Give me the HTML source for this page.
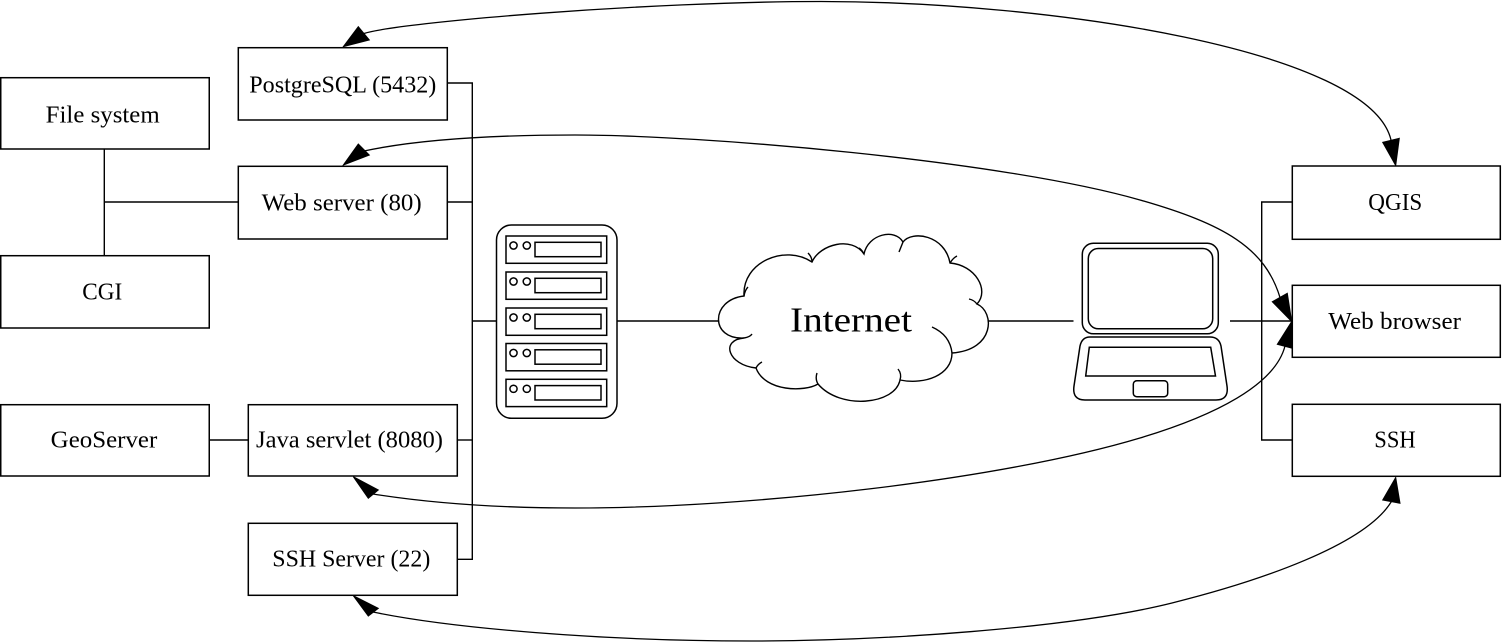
<!DOCTYPE html>
<html>
<head>
<meta charset="utf-8">
<style>
html,body{margin:0;padding:0;background:#fff;}
svg{display:block;}
text{font-family:"Liberation Serif","DejaVu Serif",serif;font-size:24px;fill:#000;}
</style>
</head>
<body>
<svg width="1502" height="644" viewBox="0 0 1502 644" xmlns="http://www.w3.org/2000/svg">
<rect x="0" y="0" width="1502" height="644" fill="#fff"/>

<!-- connectors -->
<g fill="none" stroke="#000" stroke-width="1.4">
  <path d="M104.3,149 V255.7 M104.3,202 H238.3"/>
  <path d="M209,440 H248.3"/>
  <path d="M447.3,83 H472.3 V559.3 H457.3"/>
  <path d="M447.3,202 H472.3"/>
  <path d="M457.3,440 H472.3"/>
  <path d="M472.3,321 H496"/>
  <path d="M617,321 H720"/>
  <path d="M986,321 H1073.5"/>
  <path d="M1230,321 H1292"/>
  <path d="M1292.3,202 H1261.7 V440 H1292.3"/>
</g>

<!-- curves -->
<g fill="none" stroke="#000" stroke-width="1.3">
  <path d="M364,33.5 C400,22 650,1.5 821,1.5 C1050,1.5 1370,50 1391,140"/>
  <path d="M364,151 C420,139 500,135 575,135 C700,135 1000,160 1140,200 C1225,224.3 1265,248 1280,297.5"/>
  <path d="M373,494 C430,503 500,508 575,508 C750,508 1000,480 1140,438 C1215,415.5 1275,385 1285,346"/>
  <path d="M373,612 C450,628 600,641 751,641 C880,641 1070,628.5 1172,603 C1260,581 1365,545 1391.3,501.7"/>
</g>

<!-- arrowheads -->
<g fill="#000" stroke="#000" stroke-width="1">
  <polygon points="343.3,46.7 358.3,26.7 369.3,40"/>
  <polygon points="343.3,165 358.3,144 369.3,155"/>
  <polygon points="1395.7,165.5 1382.7,142.3 1399.3,138.3"/>
  <polygon points="1291.7,321.5 1272.3,301.7 1287.3,293.3"/>
  <polygon points="1291.7,321.5 1277.3,344.3 1292.7,348.3"/>
  <polygon points="353.3,476.7 368.3,498.3 378.3,490"/>
  <polygon points="353.3,595.7 368.3,616 378.3,608.3"/>
  <polygon points="1395.7,477.5 1382.7,500 1400,503.3"/>
</g>

<!-- boxes -->
<g fill="#fff" stroke="#000" stroke-width="1.5">
  <rect x="0.75" y="77.7" width="208.5" height="71.3"/>
  <rect x="238.3" y="47.7" width="209" height="72.3"/>
  <rect x="238.3" y="166.3" width="209" height="72.7"/>
  <rect x="0.75" y="255.7" width="208.5" height="72.3"/>
  <rect x="0.75" y="404.7" width="208.5" height="71.3"/>
  <rect x="248.3" y="404.7" width="209" height="71.3"/>
  <rect x="248.3" y="523.3" width="209" height="72"/>
  <rect x="1292.3" y="166" width="208" height="73.3"/>
  <rect x="1292.3" y="285.3" width="208" height="72"/>
  <rect x="1292.3" y="404.3" width="208" height="72"/>
</g>

<!-- labels -->
<text x="45.7" y="122.3" textLength="114" lengthAdjust="spacingAndGlyphs">File system</text>
<text x="249.3" y="92.5" textLength="187" lengthAdjust="spacingAndGlyphs">PostgreSQL (5432)</text>
<text x="261.7" y="210.5" textLength="160" lengthAdjust="spacingAndGlyphs">Web server (80)</text>
<text x="82.3" y="299.3" textLength="40" lengthAdjust="spacingAndGlyphs">CGI</text>
<text x="50.7" y="447.7" textLength="106.6" lengthAdjust="spacingAndGlyphs">GeoServer</text>
<text x="256" y="447.7" textLength="187" lengthAdjust="spacingAndGlyphs">Java servlet (8080)</text>
<text x="272.3" y="566.7" textLength="158" lengthAdjust="spacingAndGlyphs">SSH Server (22)</text>
<text x="1368.3" y="210" textLength="54" lengthAdjust="spacingAndGlyphs">QGIS</text>
<text x="1328.3" y="329" textLength="132.7" lengthAdjust="spacingAndGlyphs">Web browser</text>
<text x="1374.3" y="447.3" textLength="41.4" lengthAdjust="spacingAndGlyphs">SSH</text>

<!-- server rack -->
<g fill="none" stroke="#000" stroke-width="1.5">
  <rect x="496.5" y="225" width="120.5" height="193.3" rx="15" ry="15" fill="#fff"/>
  <g>
    <rect x="506" y="236" width="100.7" height="27.3"/>
    <circle cx="513.5" cy="245.5" r="3.6"/>
    <circle cx="526.8" cy="245.5" r="3.6"/>
    <rect x="535" y="242.3" width="66" height="14.4"/>
  </g>
  <g transform="translate(0,36)">
    <rect x="506" y="236" width="100.7" height="27.3"/>
    <circle cx="513.5" cy="245.5" r="3.6"/>
    <circle cx="526.8" cy="245.5" r="3.6"/>
    <rect x="535" y="242.3" width="66" height="14.4"/>
  </g>
  <g transform="translate(0,72)">
    <rect x="506" y="236" width="100.7" height="27.3"/>
    <circle cx="513.5" cy="245.5" r="3.6"/>
    <circle cx="526.8" cy="245.5" r="3.6"/>
    <rect x="535" y="242.3" width="66" height="14.4"/>
  </g>
  <g transform="translate(0,107.5)">
    <rect x="506" y="236" width="100.7" height="27.3"/>
    <circle cx="513.5" cy="245.5" r="3.6"/>
    <circle cx="526.8" cy="245.5" r="3.6"/>
    <rect x="535" y="242.3" width="66" height="14.4"/>
  </g>
  <g transform="translate(0,143.3)">
    <rect x="506" y="236" width="100.7" height="27.3"/>
    <circle cx="513.5" cy="245.5" r="3.6"/>
    <circle cx="526.8" cy="245.5" r="3.6"/>
    <rect x="535" y="242.3" width="66" height="14.4"/>
  </g>
</g>

<!-- cloud -->
<g stroke="#000" stroke-width="1.4">
  <path fill="#fff" d="M744,338 C710,340 710,300 744,296
    C742,262 785,244 812,262
    C820,244 852,236 864,254
    C868,234 895,228 903,242
    C912,230 945,235 950,263
    C975,265 990,290 977,304
    C995,312 995,350 952,353
    C952,375 925,385 900,380
    C895,405 840,410 818,384
    C805,392 765,392 756,368
    C728,365 720,340 744,338 Z"/>
  <g fill="none">
    <path d="M744,338 Q750,337 752,334"/>
    <path d="M744,296 Q745,290 748,287"/>
    <path d="M812,262 Q812,257 808,253"/>
    <path d="M864,254 Q862,250 859,248"/>
    <path d="M903,242 Q901,247 899,252"/>
    <path d="M950,263 Q953,258 957,256"/>
    <path d="M977,304 Q974,300 969,299"/>
    <path d="M952,353 Q950,335 932,327"/>
    <path d="M900,380 Q902,374 898,369"/>
    <path d="M818,384 Q815,379 817,373"/>
    <path d="M756,368 Q758,364 762,362"/>
  </g>
</g>
<text x="790" y="331.7" textLength="122" lengthAdjust="spacingAndGlyphs" style="font-size:35px">Internet</text>

<!-- laptop -->
<g fill="none" stroke="#000" stroke-width="1.5">
  <rect x="1082.3" y="243.3" width="136" height="90.5" rx="11" ry="11" fill="#fff"/>
  <rect x="1088.3" y="248.5" width="124.4" height="80.3" rx="10" ry="10"/>
  <path fill="#fff" d="M1090,337 L1210,337 Q1219,337 1221,346 L1227,386 Q1229,400 1216,400 L1085,400 Q1072,400 1074,386 L1080,346 Q1082,337 1090,337 Z"/>
  <polygon points="1089.3,347.3 1210.7,347.3 1215.5,376 1085.7,376"/>
  <rect x="1133.3" y="380.7" width="34.4" height="16" rx="3.5" ry="3.5"/>
</g>
</svg>
</body>
</html>
